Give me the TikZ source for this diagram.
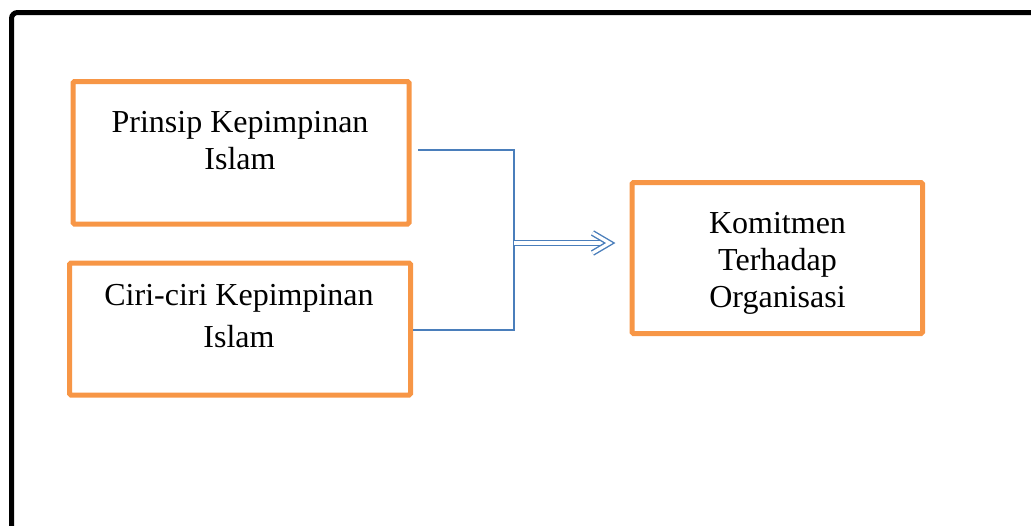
\documentclass[tikz,border=0pt]{standalone}
\usepackage{fontspec}
\setmainfont{Liberation Serif}
\definecolor{boxorange}{HTML}{F79646}
\definecolor{linkblue}{HTML}{4A7EBB}
\begin{document}
\begin{tikzpicture}[x=1pt,y=-1pt,
  box/.style={draw=boxorange, line width=5pt, rounded corners=1.5pt, inner sep=0pt, fill=white},
  txt/.style={anchor=base, inner sep=0pt, font=\fontsize{32}{37}\selectfont},
  link/.style={draw=linkblue, line width=1.6pt},
  dlink/.style={draw=linkblue, line width=1.4pt, double distance=3.2pt, line join=miter},
  frame/.style={draw=black, line width=5pt, rounded corners=6pt}]
\useasboundingbox (0,0) rectangle (1031,525);
\draw[frame] (1045,12.5) -- (11.5,12.5) -- (11.5,540);
% boxes
\node[box, minimum width=336pt, minimum height=142.5pt] (p1) at (241,152.75) {};
\node[box, minimum width=341pt, minimum height=132pt] (p2) at (240,329) {};
\node[box, minimum width=290.5pt, minimum height=151pt] (p3) at (777.25,258) {};
% texts
\node[txt] (p1a) at (240,132) {Prinsip Kepimpinan};
\node[txt] (p1b) at (240,169) {Islam};
\node[txt] (p2a) at (239,305) {Ciri-ciri Kepimpinan};
\node[txt] (p2b) at (239,347) {Islam};
\node[txt] (p3a) at (777.5,233) {Komitmen};
\node[txt] (p3b) at (777.5,270) {Terhadap};
\node[txt] (p3c) at (777.5,307) {Organisasi};
% connectors
\coordinate (j) at (514,243);
\coordinate (e) at ([xshift=-20pt]j -| p3.west);
\draw[link] ([xshift=6.5pt,yshift=2.75pt]p1.east) -| (j);
\draw[link] ([yshift=-1pt]p2.east) -| (j);
\draw[dlink] (j) -- ([xshift=-4pt]e);
\draw[dlink] (e) ++(-17,-10) -- (e) -- ++(-17,10);
\end{tikzpicture}
\end{document}
